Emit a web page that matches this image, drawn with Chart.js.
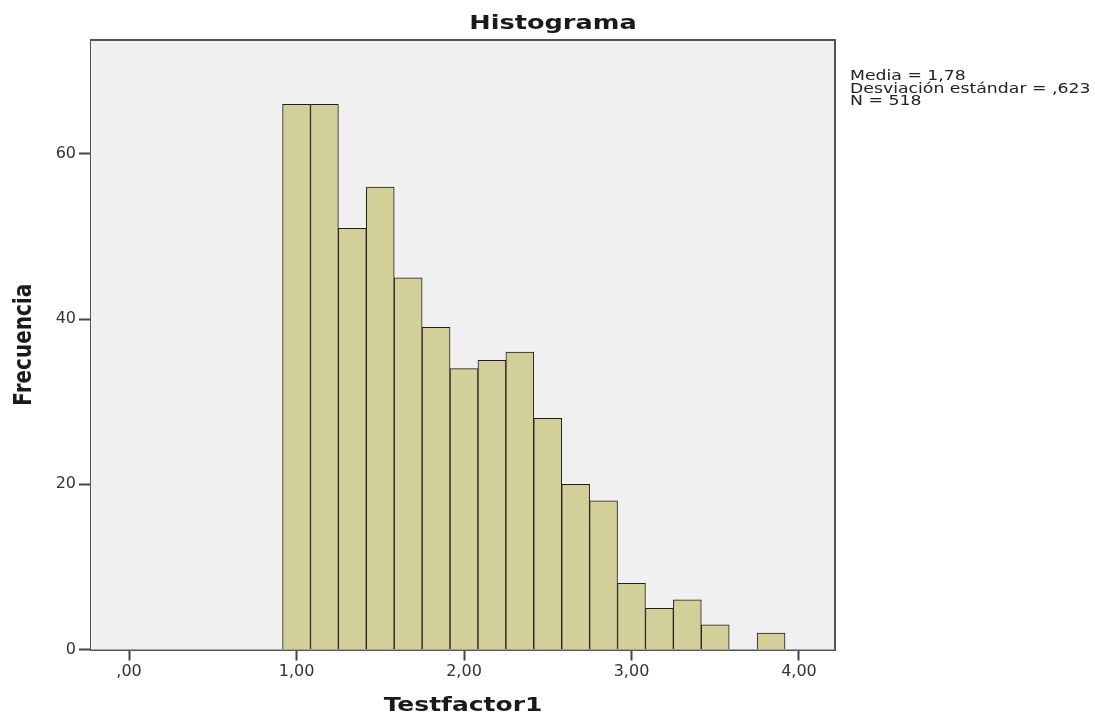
<!DOCTYPE html>
<html>
<head>
<meta charset="utf-8">
<script src="https://cdn.jsdelivr.net/npm/chart.js@4/dist/chart.umd.min.js"></script>
<style>
  html, body { margin: 0; padding: 0; background: #ffffff; }
  #wrap { width: 1095px; height: 714px; }
</style>
</head>
<body>
<div id="wrap"><canvas id="c" width="1095" height="714"></canvas></div>
<script>
// ---- data ----
const binCenters = [1.0000, 1.1667, 1.3333, 1.5000, 1.6667, 1.8333, 2.0000, 2.1667, 2.3333,
                    2.5000, 2.6667, 2.8333, 3.0000, 3.1667, 3.3333, 3.5000, 3.6667, 3.8333];
const binCounts  = [66, 66, 51, 56, 45, 39, 34, 35, 36, 28, 20, 18, 8, 5, 6, 3, 0, 2];
const xTickValues = [0, 1, 2, 3, 4];
const xTickLabels = [',00', '1,00', '2,00', '3,00', '4,00'];
const yTickValues = [0, 20, 40, 60];
const yTickLabels = ['0', '20', '40', '60'];
const chartTitle = 'Histograma';
const xAxisTitle = 'Testfactor1';
const yAxisTitle = 'Frecuencia';
const statsLines = ['Media = 1,78', 'Desviación estándar = ,623', 'N = 518'];

const SX = 1.28; // horizontal stretch of the reference image text

function stretchedText(ctx, text, x, y, align, font, color) {
  ctx.save();
  ctx.translate(x, y);
  ctx.scale(SX, 1);
  ctx.font = font;
  ctx.fillStyle = color;
  ctx.textAlign = align;
  ctx.textBaseline = 'alphabetic';
  ctx.fillText(text, 0, 0);
  ctx.restore();
}

const decorPlugin = {
  id: 'decor',
  beforeDatasetsDraw(chart) {
    const {ctx, chartArea: a} = chart;
    ctx.save();
    ctx.fillStyle = '#f0f0f0';
    ctx.fillRect(a.left, a.top, a.right - a.left, a.bottom - a.top);
    ctx.restore();
  },
  afterDraw(chart) {
    const {ctx, chartArea: a} = chart;
    ctx.save();
    ctx.strokeStyle = '#555555';
    ctx.lineWidth = 2;
    ctx.beginPath();
    ctx.moveTo(a.left, a.top);
    ctx.lineTo(a.right, a.top);
    ctx.lineTo(a.right, a.bottom);
    ctx.stroke();
    ctx.restore();

    // title
    stretchedText(ctx, chartTitle, 553, 29, 'center', 'bold 20px "DejaVu Sans"', '#1a1a1a');
    // stats box text
    statsLines.forEach((t, i) => {
      stretchedText(ctx, t, 850, 80 + i * 12.5, 'left', '13.5px "DejaVu Sans"', '#222222');
    });
    // x axis title
    stretchedText(ctx, xAxisTitle, (a.left + a.right) / 2, 711, 'center', 'bold 19.5px "DejaVu Sans"', '#1a1a1a');
    // y axis title (rotated)
    ctx.save();
    ctx.translate(24, (a.top + a.bottom) / 2);
    ctx.scale(SX, 1);
    ctx.rotate(-Math.PI / 2);
    ctx.font = 'bold 20px "DejaVu Sans"';
    ctx.fillStyle = '#1a1a1a';
    ctx.textAlign = 'center';
    ctx.textBaseline = 'middle';
    ctx.fillText(yAxisTitle, 0, 0);
    ctx.restore();
  }
};

new Chart(document.getElementById('c'), {
  type: 'bar',
  data: {
    datasets: [{
      data: binCenters.map((c, i) => ({x: c, y: binCounts[i]})),
      backgroundColor: '#d3cf98',
      borderColor: '#1e1e1e',
      borderWidth: 1,
      borderSkipped: 'start',
      barPercentage: 1.0,
      categoryPercentage: 1.0
    }]
  },
  options: {
    responsive: false,
    animation: false,
    events: [],
    layout: { padding: { left: 0, right: 260, top: 40, bottom: 0 } },
    plugins: { legend: { display: false }, tooltip: { enabled: false }, title: { display: false } },
    scales: {
      x: {
        type: 'linear',
        offset: false,
        min: -0.227,
        max: 4.215,
        afterBuildTicks(s) { s.ticks = xTickValues.map(v => ({value: v})); },
        afterFit(s) { s.height = 64.5; },
        grid: { display: true, offset: false, drawOnChartArea: false, drawTicks: true, tickLength: 11, tickColor: '#444444', tickWidth: 2 },
        border: { display: true, color: '#555555', width: 2 },
        ticks: {
          autoSkip: false,
          maxRotation: 0,
          padding: 2,
          color: '#333333',
          font: { family: 'DejaVu Sans', size: 16 },
          callback(v) { const i = xTickValues.indexOf(v); return i >= 0 ? xTickLabels[i] : ''; }
        }
      },
      y: {
        type: 'linear',
        min: 0,
        max: 73.8,
        afterBuildTicks(s) { s.ticks = yTickValues.map(v => ({value: v})); },
        afterFit(s) { s.width = 91; },
        grid: { display: true, drawOnChartArea: false, drawTicks: true, tickLength: 12, tickColor: '#444444', tickWidth: 2 },
        border: { display: true, color: '#555555', width: 2 },
        ticks: {
          padding: 3,
          color: '#333333',
          font: { family: 'DejaVu Sans', size: 16 },
          callback(v) { const i = yTickValues.indexOf(v); return i >= 0 ? yTickLabels[i] : ''; }
        }
      }
    }
  },
  plugins: [decorPlugin]
});
</script>
</body>
</html>
